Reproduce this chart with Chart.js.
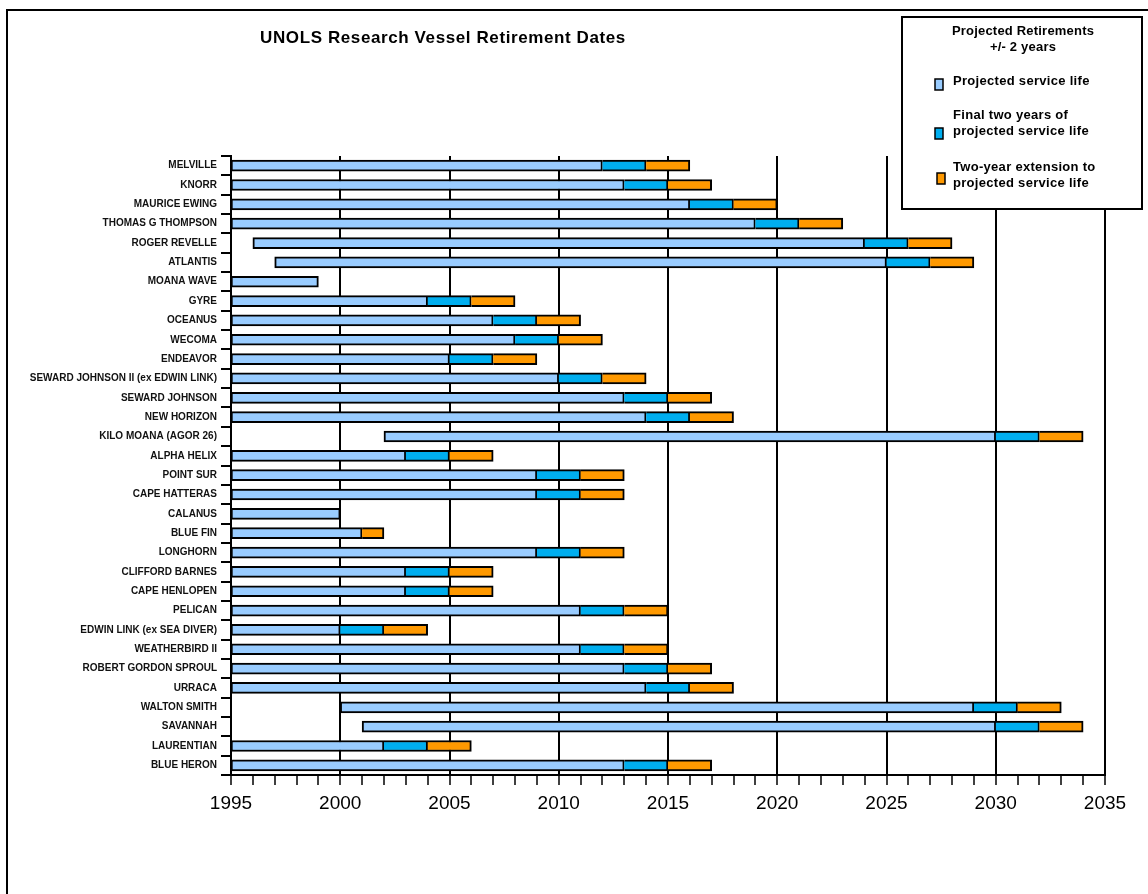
<!DOCTYPE html>
<html>
<head>
<meta charset="utf-8">
<title>UNOLS Research Vessel Retirement Dates</title>
<script src="https://cdn.jsdelivr.net/npm/chart.js@4/dist/chart.umd.min.js"></script>
<style>
  html, body { margin: 0; padding: 0; background: #fff; }
  #wrap { position: relative; width: 1148px; height: 894px; }
  canvas { display: block; }
</style>
</head>
<body>
<div id="wrap"><canvas id="chart" width="1148" height="894"></canvas></div>
<script>
// Vessels, top to bottom
const vessels = [
  'MELVILLE', 'KNORR', 'MAURICE EWING', 'THOMAS G THOMPSON', 'ROGER REVELLE',
  'ATLANTIS', 'MOANA WAVE', 'GYRE', 'OCEANUS', 'WECOMA', 'ENDEAVOR',
  'SEWARD JOHNSON II (ex EDWIN LINK)', 'SEWARD JOHNSON', 'NEW HORIZON',
  'KILO MOANA (AGOR 26)', 'ALPHA HELIX', 'POINT SUR', 'CAPE HATTERAS',
  'CALANUS', 'BLUE FIN', 'LONGHORN', 'CLIFFORD BARNES', 'CAPE HENLOPEN',
  'PELICAN', 'EDWIN LINK (ex SEA DIVER)', 'WEATHERBIRD II',
  'ROBERT GORDON SPROUL', 'URRACA', 'WALTON SMITH', 'SAVANNAH',
  'LAURENTIAN', 'BLUE HERON'
];

// First year shown for each vessel (1995 = in service before the axis starts)
const serviceStart = [
  1995, 1995, 1995, 1995, 1996, 1997, 1995, 1995, 1995, 1995, 1995,
  1995, 1995, 1995, 2002, 1995, 1995, 1995, 1995, 1995, 1995, 1995,
  1995, 1995, 1995, 1995, 1995, 1995, 2000, 2001, 1995, 1995
];

// Start of the final two years of projected service life
const finalTwoStart = [
  2012, 2013, 2016, 2019, 2024, 2025, 1999, 2004, 2007, 2008, 2005,
  2010, 2013, 2014, 2030, 2003, 2009, 2009, 2000, 2001, 2009, 2003,
  2003, 2011, 2000, 2011, 2013, 2014, 2029, 2030, 2002, 2013
];

// Projected retirement year (null = no final-two-year segment)
const retirement = [
  2014, 2015, 2018, 2021, 2026, 2027, null, 2006, 2009, 2010, 2007,
  2012, 2015, 2016, 2032, 2005, 2011, 2011, null, null, 2011, 2005,
  2005, 2013, 2002, 2013, 2015, 2016, 2031, 2032, 2004, 2015
];

// End of the two-year extension (null = no extension segment)
const extensionEnd = [
  2016, 2017, 2020, 2023, 2028, 2029, null, 2008, 2011, 2012, 2009,
  2014, 2017, 2018, 2034, 2007, 2013, 2013, null, 2002, 2013, 2007,
  2007, 2015, 2004, 2015, 2017, 2018, 2033, 2034, 2006, 2017
];

// Year axis
const yearMin = 1995;
const yearMax = 2035;
const labelEvery = 5;

const seriesLabels = [
  ['Projected service life'],
  ['Final two years of', 'projected service life'],
  ['Two-year extension to', 'projected service life']
];
const seriesColors = ['#99CCFF', '#00AEEF', '#FF9900'];

const lifeData = vessels.map((_, i) => [serviceStart[i], finalTwoStart[i]]);
const finalData = vessels.map((_, i) => retirement[i] == null ? null : [finalTwoStart[i], retirement[i]]);
const extData = vessels.map((_, i) => extensionEnd[i] == null ? null :
  [retirement[i] == null ? finalTwoStart[i] : retirement[i], extensionEnd[i]]);

const FONT = '"Liberation Sans", Arial, Helvetica, sans-serif';

// Outer frame, title and legend box
const decorations = {
  id: 'decorations',
  afterDraw(chart) {
    const ctx = chart.ctx;
    ctx.save();
    // frame
    ctx.strokeStyle = '#000';
    ctx.lineWidth = 2;
    ctx.beginPath();
    ctx.moveTo(7, 894);
    ctx.lineTo(7, 10);
    ctx.lineTo(1148, 10);
    ctx.stroke();

    // title
    ctx.fillStyle = '#000';
    ctx.font = 'bold 17px ' + FONT;
    ctx.letterSpacing = '0.6px';
    ctx.textAlign = 'center';
    ctx.textBaseline = 'middle';
    ctx.fillText('UNOLS Research Vessel Retirement Dates', 443, 38);

    // legend box
    const bx = 902, by = 17, bw = 240, bh = 192;
    ctx.fillStyle = '#fff';
    ctx.fillRect(bx, by, bw, bh);
    ctx.strokeStyle = '#000';
    ctx.lineWidth = 2;
    ctx.strokeRect(bx, by, bw, bh);

    ctx.fillStyle = '#000';
    ctx.font = 'bold 13px ' + FONT;
    ctx.letterSpacing = '0.2px';
    ctx.textAlign = 'center';
    ctx.fillText('Projected Retirements', 1023, 31);
    ctx.fillText('+/- 2 years', 1023, 47);

    ctx.letterSpacing = '0.3px';
    const textY = [81, 115, 167];
    const markerY = [84, 133, 178];
    const markerX = [935, 935, 937];
    chart.data.datasets.forEach((ds, k) => {
      const lines = seriesLabels[k];
      ctx.fillStyle = ds.backgroundColor;
      ctx.fillRect(markerX[k], markerY[k] - 5, 8, 11);
      ctx.strokeStyle = '#000';
      ctx.lineWidth = 1.5;
      ctx.strokeRect(markerX[k], markerY[k] - 5, 8, 11);
      ctx.fillStyle = '#000';
      ctx.textAlign = 'left';
      lines.forEach((t, j) => ctx.fillText(t, 953, textY[k] + j * 16));
    });
    ctx.restore();
  }
};

new Chart(document.getElementById('chart'), {
  type: 'bar',
  data: {
    labels: vessels,
    datasets: [
      {
        label: seriesLabels[0].join(' '),
        data: lifeData,
        backgroundColor: seriesColors[0],
        borderColor: '#000',
        borderWidth: 2,
        borderSkipped: false,
        barThickness: 11,
        grouped: false,
        order: 3
      },
      {
        label: seriesLabels[1].join(' '),
        data: finalData,
        backgroundColor: seriesColors[1],
        borderColor: '#000',
        borderWidth: 2,
        borderSkipped: 'left',
        barThickness: 11,
        grouped: false,
        order: 2
      },
      {
        label: seriesLabels[2].join(' '),
        data: extData,
        backgroundColor: seriesColors[2],
        borderColor: '#000',
        borderWidth: 2,
        borderSkipped: 'left',
        barThickness: 11,
        grouped: false,
        order: 1
      }
    ]
  },
  options: {
    indexAxis: 'y',
    responsive: false,
    animation: false,
    layout: { padding: { top: 156, right: 43, left: 0, bottom: 0 } },
    plugins: {
      legend: { display: false },
      title: { display: false },
      tooltip: { enabled: false }
    },
    scales: {
      x: {
        type: 'linear',
        position: 'bottom',
        min: yearMin,
        max: yearMax,
        afterFit(scale) { scale.height = 119; },
        border: { display: true, color: '#000', width: 2 },
        grid: {
          drawOnChartArea: true,
          drawTicks: true,
          tickLength: 10,
          lineWidth: 2,
          tickWidth: 1.5,
          color: c => (c.tick && c.tick.value % labelEvery === 0) ? '#000' : 'rgba(0,0,0,0)',
          tickColor: '#000'
        },
        ticks: {
          stepSize: 1,
          autoSkip: false,
          maxRotation: 0,
          padding: 7,
          color: '#000',
          font: { family: FONT, size: 19 },
          callback: v => (v % labelEvery === 0 ? String(v) : '')
        }
      },
      y: {
        type: 'category',
        afterFit(scale) { scale.width = 231; },
        border: { display: true, color: '#000', width: 2 },
        grid: {
          offset: true,
          drawOnChartArea: false,
          drawTicks: true,
          tickLength: 10,
          lineWidth: 2,
          color: '#000'
        },
        ticks: {
          autoSkip: false,
          padding: 4,
          color: '#111',
          font: { family: FONT, size: 10, weight: 'bold' }
        }
      }
    }
  },
  plugins: [decorations]
});
</script>
</body>
</html>
